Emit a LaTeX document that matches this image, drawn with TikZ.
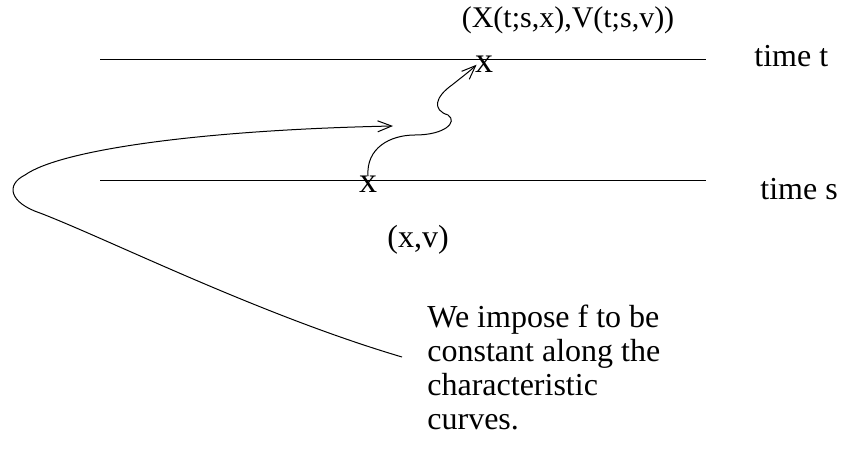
\documentclass[tikz,border=0pt]{standalone}
\usepackage{fontspec}
\setmainfont{Liberation Serif}
\usepackage{tikz}
\usetikzlibrary{arrows.meta,positioning}

\tikzset{
  lbl/.style={inner sep=0pt, font=\fontsize{16pt}{17pt}\selectfont},
  xmark/.style={inner sep=0pt, font=\fontsize{18pt}{18pt}\selectfont},
  timeline/.style={line width=0.5pt},
  charcurve/.style={line width=0.5pt, -{Straight Barb[length=7pt,width=5.5pt,line width=0.5pt]}}
}

\begin{document}
\begin{tikzpicture}[x=0.5pt, y=-0.5pt]
  \useasboundingbox (0,0) rectangle (845,464);

  % the two time levels
  \coordinate (tl) at (100,60);
  \coordinate (tr) at (706,60);
  \coordinate (sl) at (100,181);
  \coordinate (sr) at (706,181);
  \draw[timeline] (tl) -- (tr);
  \draw[timeline] (sl) -- (sr);

  \node[lbl, anchor=base west] (tlabel) at (754,67) {time t};
  \node[lbl, anchor=base west] (slabel) at (760,200) {time s};

  % start and end points
  \node[xmark, anchor=base] (xs) at (368,193) {x};
  \node[xmark, anchor=base] (xt) at (484,73) {x};
  \node[lbl, anchor=base] (xv) at (418,248) {(x,v)};
  \node[lbl, anchor=base, font=\fontsize{15pt}{17pt}\selectfont] (XV) at (568,28) {(X(t;s,x),V(t;s,v))};

  % characteristic curve
  \draw[charcurve] (xs.north) .. controls (366,148) and (390,135) .. (415,135)
    .. controls (445,135) and (458,122) .. (448,115)
    .. controls (432,110) and (435,97) .. (452,85)
    .. controls (462,77) and (470,71) .. ([xshift=1pt]xt.west);

  % comment
  \node[lbl, anchor=base west, align=left] (note) at (427,429)
    {We impose f to be\\constant along the\\characteristic\\curves.};
  \coordinate (tail) at (402,357);
  \coordinate (head) at (393,126);
  \draw[charcurve] (tail) .. controls (260,315) and (110,240) .. (40,213)
    .. controls (10,203) and (5,185) .. (25,175)
    .. controls (60,150) and (200,130) .. (head);
\end{tikzpicture}
\end{document}
